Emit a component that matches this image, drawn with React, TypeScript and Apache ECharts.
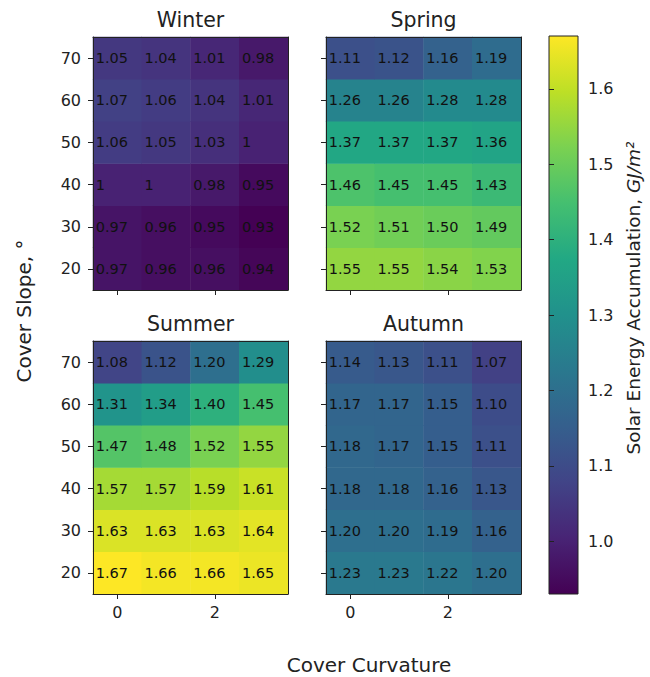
import React, { useEffect, useRef } from "react";
import * as echarts from "echarts";

const curvatures = ["0", "1", "2", "3"];
const slopes = ["20", "30", "40", "50", "60", "70"];
const seasons = ["Winter", "Spring", "Summer", "Autumn"];

// rows ordered by slope ascending (20 first), columns by curvature 0..3
const winter = [
  [0.97, 0.96, 0.96, 0.94],
  [0.97, 0.96, 0.95, 0.93],
  [1, 1, 0.98, 0.95],
  [1.06, 1.05, 1.03, 1],
  [1.07, 1.06, 1.04, 1.01],
  [1.05, 1.04, 1.01, 0.98],
];
const spring = [
  [1.55, 1.55, 1.54, 1.53],
  [1.52, 1.51, 1.5, 1.49],
  [1.46, 1.45, 1.45, 1.43],
  [1.37, 1.37, 1.37, 1.36],
  [1.26, 1.26, 1.28, 1.28],
  [1.11, 1.12, 1.16, 1.19],
];
const summer = [
  [1.67, 1.66, 1.66, 1.65],
  [1.63, 1.63, 1.63, 1.64],
  [1.57, 1.57, 1.59, 1.61],
  [1.47, 1.48, 1.52, 1.55],
  [1.31, 1.34, 1.4, 1.45],
  [1.08, 1.12, 1.2, 1.29],
];
const autumn = [
  [1.23, 1.23, 1.22, 1.2],
  [1.2, 1.2, 1.19, 1.16],
  [1.18, 1.18, 1.16, 1.13],
  [1.18, 1.17, 1.15, 1.11],
  [1.17, 1.17, 1.15, 1.1],
  [1.14, 1.13, 1.11, 1.07],
];
const colorbarTicks = [1.0, 1.1, 1.2, 1.3, 1.4, 1.5, 1.6];
const colorMin = 0.93;
const colorMax = 1.67;

const viridis = [
  "#440154", "#482475", "#414487", "#355f8d", "#2a788e", "#21918c",
  "#22a884", "#44bf70", "#7ad151", "#bddf26", "#fde725",
];

const FONT = "DejaVu Sans";
const INK = "#222";

export default function App() {
  const ref = useRef<HTMLDivElement>(null);
  useEffect(() => {
    if (!ref.current) return;
    const chart = echarts.init(ref.current, null, { renderer: "svg" });
    const panels = [winter, spring, summer, autumn];
    const grids = [
      { left: 93, top: 37, width: 195, height: 253 },
      { left: 326, top: 37, width: 195, height: 253 },
      { left: 93, top: 341, width: 195, height: 253 },
      { left: 326, top: 341, width: 195, height: 253 },
    ];
    const xAxes: any[] = [];
    const yAxes: any[] = [];
    const series: any[] = [];
    const evenIdx = (i: number) => i % 2 === 0;
    panels.forEach((vals, p) => {
      xAxes.push({
        type: "category", data: curvatures, gridIndex: p, position: "bottom", z: 5,
        axisLine: { show: true, lineStyle: { color: INK, width: 1 } },
        axisTick: { show: true, alignWithLabel: true, interval: (i: number) => evenIdx(i), length: 5, lineStyle: { color: INK } },
        axisLabel: { show: p >= 2, interval: (i: number) => evenIdx(i), margin: 10, fontSize: 16, color: INK, fontFamily: FONT },
        splitLine: { show: false },
      });
      xAxes.push({
        type: "category", data: curvatures, gridIndex: p, position: "top", z: 5,
        axisLine: { show: true, lineStyle: { color: INK, width: 1 } },
        axisTick: { show: false }, axisLabel: { show: false }, splitLine: { show: false },
      });
      yAxes.push({
        type: "category", data: slopes, gridIndex: p, position: "left", z: 5,
        axisLine: { show: true, lineStyle: { color: INK, width: 1 } },
        axisTick: { show: true, alignWithLabel: true, length: 5, lineStyle: { color: INK } },
        axisLabel: { show: p % 2 === 0, margin: 12, fontSize: 16, color: INK, fontFamily: FONT },
        splitLine: { show: false },
      });
      yAxes.push({
        type: "category", data: slopes, gridIndex: p, position: "right", z: 5,
        axisLine: { show: true, lineStyle: { color: INK, width: 1 } },
        axisTick: { show: false }, axisLabel: { show: false }, splitLine: { show: false },
      });
      const data: any[] = [];
      vals.forEach((row, yi) => row.forEach((v, xi) => data.push([xi, yi, v])));
      series.push({
        type: "heatmap", xAxisIndex: 2 * p, yAxisIndex: 2 * p, data,
        itemStyle: { borderWidth: 0 },
        label: {
          show: true, position: "insideLeft", distance: 3, color: "#111", fontSize: 14.5, fontFamily: FONT,
          formatter: (prm: any) => {
            const v = prm.value[2];
            return p === 0 ? String(v) : v.toFixed(2);
          },
        },
        emphasis: { disabled: true },
      });
    });
    // colorbar grid
    const cbGrid = {
      left: 549, top: 36, width: 29, height: 558, show: true,
      borderColor: INK, borderWidth: 1,
      backgroundColor: {
        type: "linear", x: 0, y: 1, x2: 0, y2: 0,
        colorStops: viridis.map((c, i) => ({ offset: i / (viridis.length - 1), color: c })),
      },
    };
    xAxes.push({ type: "value", gridIndex: 4, show: false });
    yAxes.push({
      type: "value", gridIndex: 4, position: "right", min: colorMin, max: colorMax,
      axisLine: { show: false },
      axisTick: { show: true, length: 5, customValues: colorbarTicks, lineStyle: { color: INK } },
      axisLabel: { show: true, customValues: colorbarTicks, margin: 10, fontSize: 16, color: INK, fontFamily: FONT, formatter: (v: number) => v.toFixed(1) },
      splitLine: { show: false },
    });

    const titleCenters = [190.5, 423.5, 190.5, 423.5];
    const titleYs = [19.5, 19.5, 323.5, 323.5];
    const graphics: any[] = seasons.map((s, i) => ({
      type: "text", x: titleCenters[i], y: titleYs[i],
      style: { text: s, fontSize: 20.5, fontFamily: FONT, fill: INK, align: "center", verticalAlign: "middle" },
    }));
    graphics.push({
      type: "text", x: 369, y: 664.5,
      style: { text: "Cover Curvature", fontSize: 20, fontFamily: FONT, fill: INK, align: "center", verticalAlign: "middle" },
    });
    graphics.push({
      type: "text", x: 24, y: 311, rotation: Math.PI / 2,
      style: { text: "Cover Slope, °", fontSize: 20, fontFamily: FONT, fill: INK, align: "center", verticalAlign: "middle" },
    });
    graphics.push({
      type: "text", x: 633, y: 298, rotation: Math.PI / 2,
      style: {
        text: "Solar Energy Accumulation, {i|GJ/m²}", fontSize: 18.5, fontFamily: FONT, fill: INK,
        align: "center", verticalAlign: "middle",
        rich: { i: { fontStyle: "italic", fontSize: 18.5, fontFamily: FONT, fill: INK } },
      },
    });

    chart.setOption({
      animation: false,
      textStyle: { fontFamily: FONT },
      grid: [...grids, cbGrid],
      xAxis: xAxes,
      yAxis: yAxes,
      visualMap: {
        type: "continuous", show: false, min: colorMin, max: colorMax, dimension: 2,
        seriesIndex: [0, 1, 2, 3], inRange: { color: viridis },
      },
      series,
      graphic: graphics,
    });
    return () => chart.dispose();
  }, []);
  return (
    <div
      ref={ref}
      style={{ position: "absolute", left: 0, top: 0, width: 650, height: 677, background: "#fff" }}
    />
  );
}
